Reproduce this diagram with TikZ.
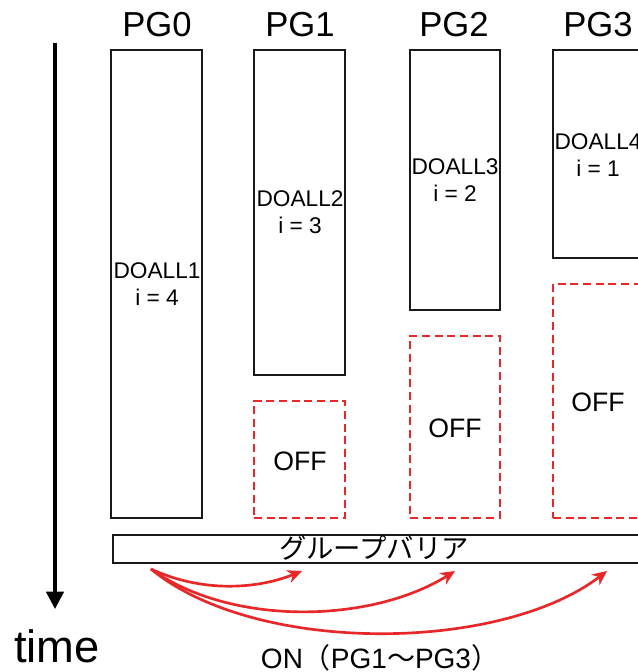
\documentclass[tikz,border=0pt]{standalone}
\usepackage{fontspec}
\setmainfont{Liberation Sans}
\newfontfamily\jp{Noto Sans CJK JP}
\usetikzlibrary{arrows.meta,fit}
\definecolor{offred}{RGB}{232,40,40}
\tikzset{
  pgbox/.style={draw=black!90, line width=1.8pt, inner sep=0pt, align=center,
    font=\fontsize{17}{20}\selectfont},
  offbox/.style={draw=offred, line width=2.2pt, dash pattern=on 6pt off 3.5pt,
    inner sep=0pt, font=\fontsize{20}{24}\selectfont},
  pglabel/.style={anchor=base, inner sep=0pt, font=\fontsize{26}{30}\selectfont},
  onarrow/.style={draw=offred, line width=2pt, -{Stealth[length=11pt,width=10pt]}},
  txt/.style={align=center, inner sep=0pt, font=\fontsize{17}{20}\selectfont},
}
\begin{document}
\begin{tikzpicture}[x=0.75pt,y=-0.75pt]
\useasboundingbox (0,0) rectangle (638,672);
\clip (0,0) rectangle (638,672);
% time axis
\coordinate (t0) at (55,43);
\coordinate (t1) at (55,609);
\draw[line width=2.4pt, -{Triangle[length=13pt,width=13pt]}] (t0) -- (t1);
\node[anchor=base, inner sep=0pt, font=\fontsize{34}{40}\selectfont] (time) at (57,662) {time};
% PG labels
\node[pglabel] (l0) at (157,36) {PG0};
\node[pglabel] (l1) at (300,36) {PG1};
\node[pglabel] (l2) at (454,36) {PG2};
\node[pglabel] (l3) at (598,36) {PG3};
% DOALL boxes
\node[pgbox, fit={(111,50) (202,518)}] (d1) {};
\node[txt] (d1t) at (157,284) {DOALL1\\i = 4};
\node[pgbox, fit={(254,50) (345,375)}] (d2) {};
\node[txt] (d2t) at (300,212) {DOALL2\\i = 3};
\node[pgbox, fit={(410,50) (500,310)}] (d3) {};
\node[txt] (d3t) at (455,180) {DOALL3\\i = 2};
\node[pgbox, fit={(553,50) (645,258)}] (d4) {};
\node[txt] (d4t) at (598,155) {DOALL4\\i = 1};
% OFF boxes
\node[offbox, fit={(254,401) (345,518)}] (o1) {};
\node[inner sep=0pt, font=\fontsize{20}{24}\selectfont] (o1t) at (300,461) {OFF};
\node[offbox, fit={(410,336) (500,518)}] (o2) {};
\node[inner sep=0pt, font=\fontsize{20}{24}\selectfont] (o2t) at (455,428) {OFF};
\node[offbox, fit={(553,284) (645,518)}] (o3) {};
\node[inner sep=0pt, font=\fontsize{20}{24}\selectfont] (o3t) at (598,402) {OFF};
% group barrier
\node[pgbox, fit={(113,535) (652,563)}] (bar) {};
\node[inner sep=0pt, font=\jp\fontsize{20.5}{24}\selectfont] (bart) at (374,548) {グループバリア};
% ON arrows
\coordinate (s) at (151,569);
\coordinate (e1) at (302,571);
\coordinate (e2) at (455,571);
\coordinate (e3) at (607,571);
\draw[onarrow] (s) .. controls (200,592) and (255,590) .. (e1);
\draw[onarrow] (s) .. controls (230,626) and (370,624) .. (e2);
\draw[onarrow] (s) .. controls (255,655) and (500,653) .. (e3);
\node[anchor=base, inner sep=0pt, font=\fontsize{21}{25}\selectfont] (on) at (380,668) {ON{\jp（}PG1{\jp 〜}PG3{\jp ）}};
\end{tikzpicture}
\end{document}
